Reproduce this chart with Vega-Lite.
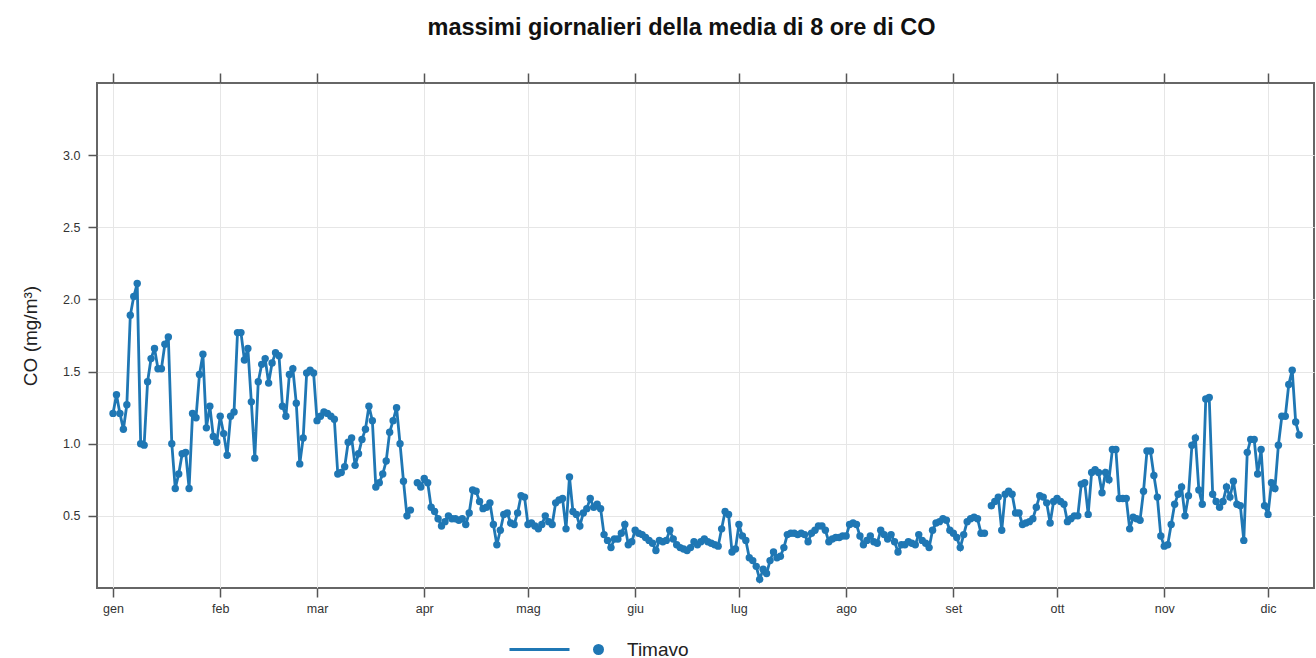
{
 "$schema": "https://vega.github.io/schema/vega-lite/v6.json",
 "autosize": "none",
 "width": 1217,
 "height": 505,
 "padding": {"left": 97, "top": 83, "right": 2, "bottom": 70},
 "background": "white",
 "title": {"text": "massimi giornalieri della media di 8 ore di CO", "fontSize": 23.5, "font": "Liberation Sans", "fontWeight": "bold", "color": "#111111", "anchor": "middle", "dx": -24, "offset": 33},
 "data": {"values": [
{"d":0,"v":1.21},{"d":1,"v":1.34},{"d":2,"v":1.21},{"d":3,"v":1.10},{"d":4,"v":1.27},{"d":5,"v":1.89},{"d":6,"v":2.02},{"d":7,"v":2.11},{"d":8,"v":1.00},{"d":9,"v":0.99},
{"d":10,"v":1.43},{"d":11,"v":1.59},{"d":12,"v":1.66},{"d":13,"v":1.52},{"d":14,"v":1.52},{"d":15,"v":1.69},{"d":16,"v":1.74},{"d":17,"v":1.00},{"d":18,"v":0.69},{"d":19,"v":0.79},
{"d":20,"v":0.93},{"d":21,"v":0.94},{"d":22,"v":0.69},{"d":23,"v":1.21},{"d":24,"v":1.18},{"d":25,"v":1.48},{"d":26,"v":1.62},{"d":27,"v":1.11},{"d":28,"v":1.26},{"d":29,"v":1.05},
{"d":30,"v":1.01},{"d":31,"v":1.19},{"d":32,"v":1.07},{"d":33,"v":0.92},{"d":34,"v":1.19},{"d":35,"v":1.22},{"d":36,"v":1.77},{"d":37,"v":1.77},{"d":38,"v":1.58},{"d":39,"v":1.66},
{"d":40,"v":1.29},{"d":41,"v":0.90},{"d":42,"v":1.43},{"d":43,"v":1.55},{"d":44,"v":1.59},{"d":45,"v":1.42},{"d":46,"v":1.56},{"d":47,"v":1.63},{"d":48,"v":1.61},{"d":49,"v":1.26},
{"d":50,"v":1.19},{"d":51,"v":1.48},{"d":52,"v":1.52},{"d":53,"v":1.28},{"d":54,"v":0.86},{"d":55,"v":1.04},{"d":56,"v":1.49},{"d":57,"v":1.51},{"d":58,"v":1.49},{"d":59,"v":1.16},
{"d":60,"v":1.19},{"d":61,"v":1.22},{"d":62,"v":1.21},{"d":63,"v":1.19},{"d":64,"v":1.17},{"d":65,"v":0.79},{"d":66,"v":0.80},{"d":67,"v":0.84},{"d":68,"v":1.01},{"d":69,"v":1.04},
{"d":70,"v":0.85},{"d":71,"v":0.93},{"d":72,"v":1.03},{"d":73,"v":1.10},{"d":74,"v":1.26},{"d":75,"v":1.16},{"d":76,"v":0.70},{"d":77,"v":0.73},{"d":78,"v":0.79},{"d":79,"v":0.88},
{"d":80,"v":1.08},{"d":81,"v":1.16},{"d":82,"v":1.25},{"d":83,"v":1.00},{"d":84,"v":0.74},{"d":85,"v":0.50},{"d":86,"v":0.54},{"d":87,"v":null},{"d":88,"v":0.73},{"d":89,"v":0.70},
{"d":90,"v":0.76},{"d":91,"v":0.73},{"d":92,"v":0.56},{"d":93,"v":0.53},{"d":94,"v":0.48},{"d":95,"v":0.43},{"d":96,"v":0.46},{"d":97,"v":0.50},{"d":98,"v":0.48},{"d":99,"v":0.48},
{"d":100,"v":0.47},{"d":101,"v":0.48},{"d":102,"v":0.44},{"d":103,"v":0.52},{"d":104,"v":0.68},{"d":105,"v":0.67},{"d":106,"v":0.60},{"d":107,"v":0.55},{"d":108,"v":0.56},{"d":109,"v":0.59},
{"d":110,"v":0.44},{"d":111,"v":0.30},{"d":112,"v":0.40},{"d":113,"v":0.51},{"d":114,"v":0.52},{"d":115,"v":0.45},{"d":116,"v":0.44},{"d":117,"v":0.52},{"d":118,"v":0.64},{"d":119,"v":0.63},
{"d":120,"v":0.44},{"d":121,"v":0.45},{"d":122,"v":0.43},{"d":123,"v":0.41},{"d":124,"v":0.44},{"d":125,"v":0.50},{"d":126,"v":0.46},{"d":127,"v":0.44},{"d":128,"v":0.59},{"d":129,"v":0.61},
{"d":130,"v":0.62},{"d":131,"v":0.41},{"d":132,"v":0.77},{"d":133,"v":0.53},{"d":134,"v":0.51},{"d":135,"v":0.43},{"d":136,"v":0.52},{"d":137,"v":0.55},{"d":138,"v":0.62},{"d":139,"v":0.56},
{"d":140,"v":0.58},{"d":141,"v":0.55},{"d":142,"v":0.37},{"d":143,"v":0.33},{"d":144,"v":0.28},{"d":145,"v":0.34},{"d":146,"v":0.34},{"d":147,"v":0.38},{"d":148,"v":0.44},{"d":149,"v":0.30},
{"d":150,"v":0.32},{"d":151,"v":0.40},{"d":152,"v":0.38},{"d":153,"v":0.37},{"d":154,"v":0.35},{"d":155,"v":0.33},{"d":156,"v":0.31},{"d":157,"v":0.26},{"d":158,"v":0.33},{"d":159,"v":0.32},
{"d":160,"v":0.33},{"d":161,"v":0.40},{"d":162,"v":0.34},{"d":163,"v":0.30},{"d":164,"v":0.28},{"d":165,"v":0.27},{"d":166,"v":0.26},{"d":167,"v":0.28},{"d":168,"v":0.32},{"d":169,"v":0.30},
{"d":170,"v":0.32},{"d":171,"v":0.34},{"d":172,"v":0.32},{"d":173,"v":0.31},{"d":174,"v":0.30},{"d":175,"v":0.29},{"d":176,"v":0.41},{"d":177,"v":0.53},{"d":178,"v":0.51},{"d":179,"v":0.25},
{"d":180,"v":0.27},{"d":181,"v":0.44},{"d":182,"v":0.36},{"d":183,"v":0.33},{"d":184,"v":0.21},{"d":185,"v":0.19},{"d":186,"v":0.15},{"d":187,"v":0.06},{"d":188,"v":0.13},{"d":189,"v":0.10},
{"d":190,"v":0.19},{"d":191,"v":0.25},{"d":192,"v":0.21},{"d":193,"v":0.22},{"d":194,"v":0.28},{"d":195,"v":0.37},{"d":196,"v":0.38},{"d":197,"v":0.38},{"d":198,"v":0.37},{"d":199,"v":0.38},
{"d":200,"v":0.37},{"d":201,"v":0.32},{"d":202,"v":0.38},{"d":203,"v":0.40},{"d":204,"v":0.43},{"d":205,"v":0.43},{"d":206,"v":0.40},{"d":207,"v":0.32},{"d":208,"v":0.34},{"d":209,"v":0.35},
{"d":210,"v":0.35},{"d":211,"v":0.36},{"d":212,"v":0.36},{"d":213,"v":0.44},{"d":214,"v":0.45},{"d":215,"v":0.44},{"d":216,"v":0.36},{"d":217,"v":0.30},{"d":218,"v":0.33},{"d":219,"v":0.36},
{"d":220,"v":0.32},{"d":221,"v":0.31},{"d":222,"v":0.40},{"d":223,"v":0.37},{"d":224,"v":0.34},{"d":225,"v":0.37},{"d":226,"v":0.32},{"d":227,"v":0.25},{"d":228,"v":0.30},{"d":229,"v":0.30},
{"d":230,"v":0.32},{"d":231,"v":0.31},{"d":232,"v":0.30},{"d":233,"v":0.37},{"d":234,"v":0.33},{"d":235,"v":0.31},{"d":236,"v":0.28},{"d":237,"v":0.40},{"d":238,"v":0.45},{"d":239,"v":0.46},
{"d":240,"v":0.48},{"d":241,"v":0.47},{"d":242,"v":0.40},{"d":243,"v":0.38},{"d":244,"v":0.35},{"d":245,"v":0.28},{"d":246,"v":0.37},{"d":247,"v":0.46},{"d":248,"v":0.48},{"d":249,"v":0.49},
{"d":250,"v":0.48},{"d":251,"v":0.38},{"d":252,"v":0.38},{"d":253,"v":null},{"d":254,"v":0.57},{"d":255,"v":0.60},{"d":256,"v":0.63},{"d":257,"v":0.40},{"d":258,"v":0.65},{"d":259,"v":0.67},
{"d":260,"v":0.65},{"d":261,"v":0.52},{"d":262,"v":0.52},{"d":263,"v":0.44},{"d":264,"v":0.45},{"d":265,"v":0.46},{"d":266,"v":0.48},{"d":267,"v":0.56},{"d":268,"v":0.64},{"d":269,"v":0.63},
{"d":270,"v":0.59},{"d":271,"v":0.45},{"d":272,"v":0.60},{"d":273,"v":0.62},{"d":274,"v":0.60},{"d":275,"v":0.58},{"d":276,"v":0.46},{"d":277,"v":0.48},{"d":278,"v":0.50},{"d":279,"v":0.50},
{"d":280,"v":0.72},{"d":281,"v":0.73},{"d":282,"v":0.51},{"d":283,"v":0.80},{"d":284,"v":0.82},{"d":285,"v":0.80},{"d":286,"v":0.66},{"d":287,"v":0.80},{"d":288,"v":0.75},{"d":289,"v":0.96},
{"d":290,"v":0.96},{"d":291,"v":0.62},{"d":292,"v":0.62},{"d":293,"v":0.62},{"d":294,"v":0.41},{"d":295,"v":0.49},{"d":296,"v":0.48},{"d":297,"v":0.47},{"d":298,"v":0.67},{"d":299,"v":0.95},
{"d":300,"v":0.95},{"d":301,"v":0.78},{"d":302,"v":0.63},{"d":303,"v":0.36},{"d":304,"v":0.29},{"d":305,"v":0.30},{"d":306,"v":0.44},{"d":307,"v":0.58},{"d":308,"v":0.65},{"d":309,"v":0.70},
{"d":310,"v":0.50},{"d":311,"v":0.64},{"d":312,"v":0.99},{"d":313,"v":1.04},{"d":314,"v":0.68},{"d":315,"v":0.58},{"d":316,"v":1.31},{"d":317,"v":1.32},{"d":318,"v":0.65},{"d":319,"v":0.60},
{"d":320,"v":0.56},{"d":321,"v":0.60},{"d":322,"v":0.70},{"d":323,"v":0.63},{"d":324,"v":0.74},{"d":325,"v":0.58},{"d":326,"v":0.57},{"d":327,"v":0.33},{"d":328,"v":0.94},{"d":329,"v":1.03},
{"d":330,"v":1.03},{"d":331,"v":0.79},{"d":332,"v":0.96},{"d":333,"v":0.57},{"d":334,"v":0.51},{"d":335,"v":0.73},{"d":336,"v":0.69},{"d":337,"v":0.99},{"d":338,"v":1.19},{"d":339,"v":1.19},
{"d":340,"v":1.41},{"d":341,"v":1.51},{"d":342,"v":1.15},{"d":343,"v":1.06}
 ]},
 "layer": [
  {
   "mark": {"type": "line", "color": "#1f77b4", "strokeWidth": 2.8, "invalid": "break-paths-show-domains"},
   "encoding": {
    "x": {"field": "d", "type": "quantitative", "scale": {"domain": [-4.63, 347.3], "nice": false, "zero": false},
          "axis": {"orient": "top", "values": [0,31,59,90,120,151,181,212,243,273,304,334], "labels": false, "grid": false, "domain": false, "ticks": true, "tickSize": 10, "title": null}},
    "y": {"field": "v", "type": "quantitative", "scale": {"domain": [0, 3.5], "nice": false, "zero": false},
          "axis": {"values": [0.5,1,1.5,2,2.5,3], "format": ".1f", "title": "CO (mg/m³)", "tickSize": 9, "labelPadding": 8, "titlePadding": 22, "titleFontSize": 19, "grid": true}}
   }
  },
  {
   "mark": {"type": "point", "filled": true, "opacity": 1, "size": 55},
   "encoding": {
    "x": {"field": "d", "type": "quantitative",
          "axis": {"orient": "bottom", "values": [0,31,59,90,120,151,181,212,243,273,304,334], "labelExpr": "['gen','feb','mar','apr','mag','giu','lug','ago','set','ott','nov','dic'][indexof([0,31,59,90,120,151,181,212,243,273,304,334], datum.value)]", "grid": true, "title": null, "tickSize": 9, "labelPadding": 5}},
    "y": {"field": "v", "type": "quantitative"},
    "color": {"datum": "Timavo", "scale": {"range": ["#1f77b4"]},
     "legend": {"orient": "none", "legendX": 490, "legendY": 555, "title": null, "padding": 0,
       "symbolType": "M -8.9 0 L -2.9 0 M 0.4 0 A 0.4 0.4 0 1 1 -0.4 0 A 0.4 0.4 0 1 1 0.4 0 Z",
       "symbolSize": 400, "symbolStrokeWidth": 3, "symbolFillColor": "#1f77b4", "symbolStrokeColor": "#1f77b4",
       "labelFontSize": 19, "labelOffset": 17, "labelFont": "Liberation Sans", "labelColor": "#222222",
       "encode": {"symbols": {"update": {"fill": {"value": "#1f77b4"}, "stroke": {"value": "#1f77b4"}, "strokeWidth": {"value": 3}, "opacity": {"value": 1}}}}}}
   }
  }
 ],
 "resolve": {"axis": {"x": "independent"}},
 "config": {
  "view": {"stroke": "#666666", "strokeWidth": 2},
  "font": "Liberation Sans",
  "axis": {"domain": false, "tickColor": "#555555", "tickWidth": 1.5, "gridColor": "#e6e6e6", "gridWidth": 1,
           "labelFont": "Liberation Sans", "labelFontSize": 12.5, "labelColor": "#333333",
           "titleFont": "Liberation Sans", "titleFontSize": 19, "titleFontWeight": "normal", "titleColor": "#222222"}
 }
}
